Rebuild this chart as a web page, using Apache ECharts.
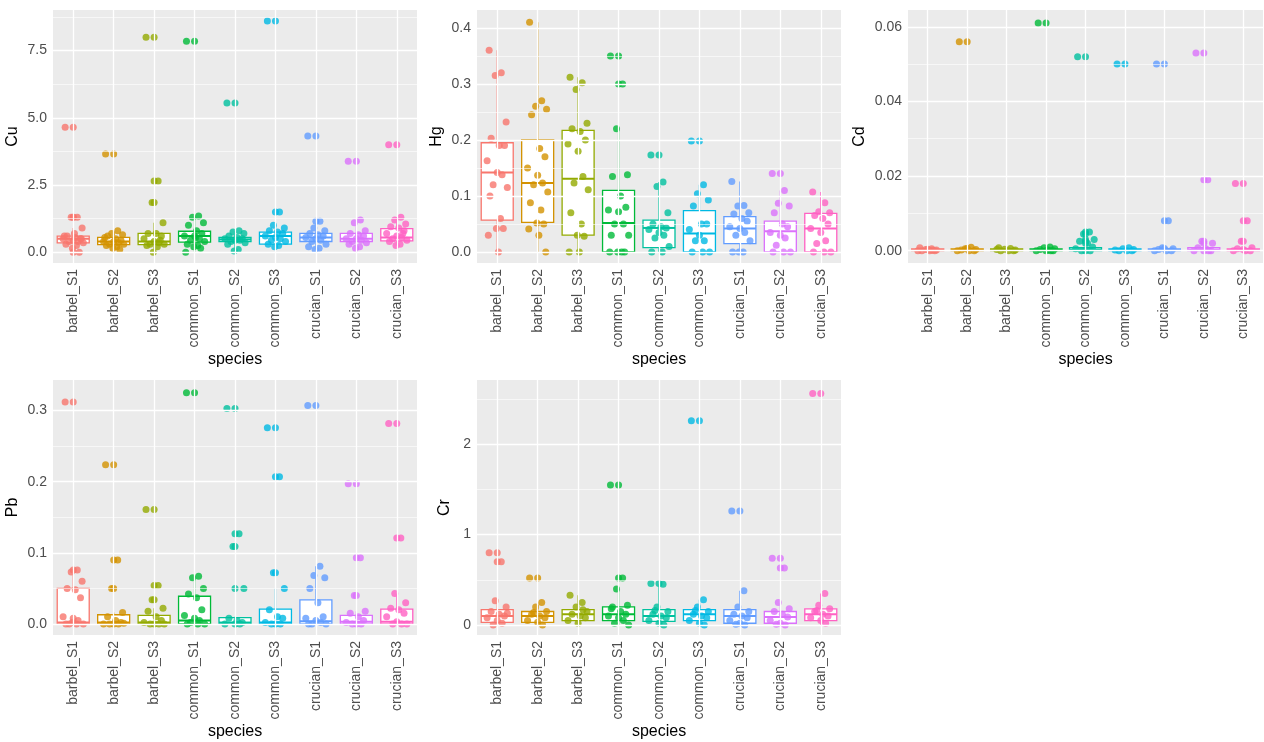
<!DOCTYPE html>
<html><head><meta charset="utf-8">
<script src="https://cdn.jsdelivr.net/npm/echarts@6/dist/echarts.min.js"></script>
<style>html,body{margin:0;background:#fff}#main{width:1264px;height:742px}</style>
</head><body><div id="main"></div>
<script>
var species = ['barbel_S1','barbel_S2','barbel_S3','common_S1','common_S2','common_S3','crucian_S1','crucian_S2','crucian_S3'];
var colors = ['#F8766D','#D39200','#93AA00','#00BA38','#00C19F','#00B9E3','#619CFF','#DB72FB','#FF61C3'];
// jitter offsets (x direction only)
var jitter = [-0.2,0.1,-0.05,0.22,-0.15,0.05,0.18,-0.25,0.0,0.12,-0.1,0.25,-0.18,0.08,-0.02,0.15,-0.22,0.03,0.2,-0.08];

// box stats: [lowWhisker, Q1, median, Q3, highWhisker]
var cuBox = [[0.05,0.35,0.5,0.6,0.9],[0.1,0.28,0.4,0.55,0.8],[0,0.28,0.4,0.7,1.1],[0,0.38,0.6,0.78,1.35],[0.05,0.4,0.48,0.55,0.8],[0.2,0.3,0.6,0.75,1.0],[0.1,0.4,0.55,0.7,1.1],[0.15,0.4,0.5,0.7,1.2],[0.25,0.42,0.55,0.88,1.3]];
var cuPts = [
 [4.65,1.3,1.3,0.9,0.6,0.55,0.5,0.5,0.45,0.4,0.4,0.35,0.3,0.25,0.15,0.0,0.6,0.7,0.5],
 [3.65,0.8,0.7,0.65,0.6,0.5,0.45,0.4,0.4,0.35,0.3,0.3,0.25,0.2,0.15,0.1,0.55],
 [8.0,2.65,1.85,1.1,0.7,0.7,0.6,0.5,0.4,0.35,0.3,0.3,0.25,0.2,0.0,0.45],
 [7.85,1.35,1.3,1.1,1.0,0.8,0.7,0.6,0.6,0.5,0.45,0.4,0.3,0.25,0.2,0.15,0.0,0.55],
 [5.55,0.8,0.75,0.7,0.6,0.55,0.5,0.5,0.45,0.45,0.4,0.35,0.3,0.1,0.05],
 [8.6,1.5,1.0,0.9,0.8,0.75,0.7,0.6,0.55,0.5,0.45,0.4,0.3,0.25,0.2],
 [4.32,1.15,0.9,0.8,0.7,0.65,0.6,0.55,0.5,0.45,0.4,0.3,0.2,0.15,0.1],
 [3.38,1.2,1.1,0.8,0.7,0.65,0.6,0.5,0.5,0.45,0.4,0.35,0.3,0.2,0.15],
 [4.0,1.3,1.2,1.05,0.95,0.9,0.8,0.7,0.6,0.55,0.5,0.45,0.4,0.3,0.25,0.7]];

var hgBox = [[0,0.057,0.142,0.195,0.36],[0,0.053,0.123,0.2,0.41],[0,0.03,0.131,0.217,0.312],[0,0,0.052,0.11,0.22],[0,0.008,0.043,0.057,0.125],[0,0,0.033,0.074,0.12],[0,0.015,0.042,0.063,0.126],[0,0,0.037,0.055,0.11],[0,0,0.042,0.069,0.107]];
var hgPts = [
 [0.36,0.32,0.315,0.232,0.203,0.19,0.19,0.163,0.142,0.138,0.12,0.115,0.1,0.06,0.042,0.042,0.03,0],
 [0.41,0.27,0.26,0.255,0.245,0.185,0.17,0.15,0.137,0.123,0.12,0.107,0.088,0.075,0.052,0.05,0.041,0.03,0],
 [0.312,0.302,0.29,0.23,0.22,0.215,0.2,0.193,0.18,0.135,0.123,0.111,0.07,0.05,0.03,0.028,0,0],
 [0.35,0.3,0.22,0.138,0.135,0.1,0.08,0.075,0.072,0.05,0.05,0.03,0.03,0,0,0,0],
 [0.173,0.125,0.117,0.07,0.05,0.045,0.043,0.04,0.035,0.03,0.025,0.01,0,0],
 [0.198,0.12,0.104,0.093,0.082,0.05,0.05,0.04,0.03,0.02,0.02,0,0,0],
 [0.126,0.083,0.082,0.07,0.068,0.06,0.055,0.045,0.042,0.035,0.03,0.02,0,0,0],
 [0.14,0.11,0.087,0.082,0.07,0.05,0.045,0.035,0.03,0.025,0.012,0,0,0],
 [0.107,0.088,0.072,0.07,0.065,0.06,0.05,0.042,0.035,0.02,0.015,0,0,0]];

var cdBox = [[0,0,0.0002,0.0005,0.001],[0,0,0.0002,0.0005,0.001],[0,0,0.0002,0.0005,0.001],[0,0,0.0002,0.0005,0.001],[0,0,0.0003,0.0008,0.0015],[0,0,0.0002,0.0005,0.001],[0,0,0.0002,0.0005,0.001],[0,0,0.0003,0.0008,0.0015],[0,0,0.0002,0.0005,0.001]];
var cdPts = [
 [0.0008,0.0005,0.0003,0.0002,0,0,0,0,0.0004,0.0001],
 [0.056,0.0009,0.0005,0.0003,0.0002,0,0,0,0.0006],
 [0.0008,0.0006,0.0004,0.0002,0,0,0,0.0003],
 [0.061,0.001,0.0008,0.0005,0.0003,0.0002,0,0,0,0],
 [0.052,0.005,0.0045,0.003,0.0025,0.002,0.001,0.0005,0,0,0],
 [0.050,0.0008,0.0005,0.0003,0,0,0,0.0002],
 [0.050,0.008,0.0008,0.0005,0.0003,0,0,0,0.0006],
 [0.053,0.019,0.0025,0.002,0.0008,0.0005,0,0,0,0],
 [0.018,0.008,0.0025,0.0008,0.0005,0,0,0,0.0003]];

var pbBox = [[0,0,0.002,0.05,0.075],[0,0,0.002,0.013,0.016],[0,0,0.002,0.012,0.022],[0,0,0.005,0.039,0.067],[0,0,0.002,0.009,0.01],[0,0,0.002,0.021,0.05],[0,0,0.004,0.034,0.081],[0,0,0.003,0.012,0.018],[0,0,0.003,0.021,0.043]];
var pbPts = [
 [0.312,0.076,0.073,0.06,0.05,0.048,0.037,0.01,0.008,0.005,0,0,0,0,0.002],
 [0.224,0.09,0.05,0.016,0.01,0.005,0.002,0,0,0,0,0.001],
 [0.161,0.054,0.034,0.022,0.018,0.01,0.005,0.002,0,0,0,0],
 [0.325,0.067,0.065,0.05,0.042,0.037,0.02,0.012,0.008,0.005,0.002,0,0,0],
 [0.303,0.127,0.109,0.05,0.008,0.005,0.002,0,0,0],
 [0.276,0.207,0.072,0.05,0.02,0.01,0.008,0.002,0,0,0],
 [0.307,0.081,0.068,0.065,0.05,0.03,0.01,0.008,0.005,0.002,0,0,0],
 [0.197,0.093,0.04,0.018,0.015,0.01,0.005,0.002,0,0,0],
 [0.282,0.121,0.043,0.03,0.022,0.02,0.015,0.01,0.003,0,0,0]];

var crBox = [[0,0.03,0.1,0.17,0.3],[0,0.03,0.1,0.15,0.25],[0,0.05,0.12,0.17,0.33],[0,0.05,0.12,0.2,0.4],[0,0.04,0.1,0.17,0.45],[0,0.05,0.12,0.17,0.28],[0,0.02,0.1,0.17,0.38],[0,0.02,0.09,0.15,0.25],[0,0.05,0.12,0.18,0.35]];
var crPts = [
 [0.8,0.7,0.27,0.2,0.15,0.12,0.1,0.08,0.05,0.02,0,0.13],
 [0.52,0.25,0.2,0.15,0.12,0.1,0.08,0.05,0.03,0,0.14],
 [0.33,0.25,0.2,0.15,0.12,0.1,0.08,0.05,0.02,0.17],
 [1.55,0.52,0.4,0.22,0.2,0.15,0.12,0.1,0.08,0.05,0.02,0,0.18],
 [0.46,0.45,0.2,0.15,0.12,0.1,0.08,0.05,0.02,0,0.16],
 [2.26,0.28,0.2,0.15,0.12,0.1,0.08,0.05,0.02,0,0.16],
 [1.26,0.38,0.2,0.15,0.12,0.1,0.08,0.05,0.02,0,0.01],
 [0.74,0.63,0.25,0.18,0.15,0.12,0.09,0.05,0.02,0,0.01],
 [2.56,0.35,0.22,0.18,0.15,0.12,0.1,0.08,0.05,0.02,0.16]];

var panels = [
 {name:'Cu', box:cuBox, pts:cuPts, min:-0.4, max:9.01, ticks:[0,2.5,5,7.5], minor:[1.25,3.75,6.25,8.75], dec:1, rect:[53,10,364,253], gap:32},
 {name:'Hg', box:hgBox, pts:hgPts, min:-0.0196, max:0.432, ticks:[0,0.1,0.2,0.3,0.4], minor:[0.05,0.15,0.25,0.35], dec:1, rect:[477,10,364,253], gap:32},
 {name:'Cd', box:cdBox, pts:cdPts, min:-0.0033, max:0.0645, ticks:[0,0.02,0.04,0.06], minor:[0.01,0.03,0.05], dec:2, rect:[908,10,355,253], gap:40},
 {name:'Pb', box:pbBox, pts:pbPts, min:-0.0155, max:0.343, ticks:[0,0.1,0.2,0.3], minor:[0.05,0.15,0.25], dec:1, rect:[53,380,364,255], gap:32},
 {name:'Cr', box:crBox, pts:crPts, min:-0.11, max:2.71, ticks:[0,1,2], minor:[0.5,1.5,2.5], dec:0, rect:[477,380,364,255], gap:24}
];

// ggplot-style box: no whisker caps
function renderBox(params, api){
  var i = api.value(0);
  var lo = api.coord([i, api.value(1)]), q1 = api.coord([i, api.value(2)]),
      md = api.coord([i, api.value(3)]), q3 = api.coord([i, api.value(4)]), hi = api.coord([i, api.value(5)]);
  var half = 16, x = lo[0];
  var st = {stroke: colors[i], lineWidth: 1.3, fill: null};
  return {type:'group', children:[
    {type:'line', shape:{x1:x, y1:hi[1], x2:x, y2:q3[1]}, style:st},
    {type:'line', shape:{x1:x, y1:q1[1], x2:x, y2:lo[1]}, style:st},
    {type:'rect', shape:{x:x-half, y:q3[1], width:2*half, height:q1[1]-q3[1]}, style:{stroke:colors[i], lineWidth:1.3, fill:'#fff'}},
    {type:'line', shape:{x1:x-half, y1:md[1], x2:x+half, y2:md[1]}, style:{stroke:colors[i], lineWidth:2}}
  ]};
}

var grid=[], xAxis=[], yAxis=[], series=[];
panels.forEach(function(p,k){
  grid.push({left:p.rect[0], top:p.rect[1], width:p.rect[2], height:p.rect[3], show:true, backgroundColor:'#EBEBEB', borderWidth:0, outerBoundsMode:'none', containLabel:false});
  xAxis.push({type:'category', gridIndex:k, data:species, axisLine:{show:false},
    axisTick:{alignWithLabel:true, length:4, lineStyle:{color:'#333'}},
    axisLabel:{rotate:90, fontSize:14, color:'#4d4d4d', fontFamily:'Liberation Sans', margin:6},
    splitLine:{show:false},
    name:'species', nameLocation:'middle', nameGap:88, nameTextStyle:{fontSize:16, color:'#000', fontFamily:'Liberation Sans'}});
  xAxis.push({type:'value', gridIndex:k, min:-0.5, max:8.5, show:false});
  yAxis.push({type:'value', gridIndex:k, min:p.min, max:p.max, axisLine:{show:false},
    axisTick:{customValues:p.ticks, length:4, lineStyle:{color:'#333'}},
    axisLabel:{customValues:p.ticks, fontSize:14, color:'#4d4d4d', fontFamily:'Liberation Sans', margin:6,
      formatter:function(v){return v.toFixed(p.dec);}},
    splitLine:{show:false},
    name:p.name, nameLocation:'middle', nameGap:p.gap, nameRotate:90, nameTextStyle:{fontSize:16, color:'#000', fontFamily:'Liberation Sans'}});
  // gridlines
  var ml = [];
  p.minor.forEach(function(v){ml.push({yAxis:v, lineStyle:{width:0.6}});});
  p.ticks.forEach(function(v){ml.push({yAxis:v, lineStyle:{width:1.3}});});
  species.forEach(function(s,i){ml.push({xAxis:i, lineStyle:{width:1.3}});});
  series.push({type:'scatter', xAxisIndex:2*k+1, yAxisIndex:k, data:[], silent:true, z:1,
    markLine:{silent:true, symbol:'none', label:{show:false}, animation:false, lineStyle:{color:'#fff', type:'solid'}, data:ml}});
  series.push({type:'custom', xAxisIndex:2*k+1, yAxisIndex:k, z:2, renderItem:renderBox, silent:true,
    data:p.box.map(function(b,i){return [i].concat(b);})});
  var pts=[];
  p.pts.forEach(function(arr,i){
    arr.forEach(function(v,j){
      pts.push({value:[i+jitter[j%jitter.length], v], itemStyle:{color:colors[i]}});
      if(v>p.box[i][4] || v<p.box[i][0]) pts.push({value:[i, v], itemStyle:{color:colors[i]}});
    });
  });
  series.push({type:'scatter', xAxisIndex:2*k+1, yAxisIndex:k, z:3, symbolSize:7, data:pts});
});

var chart = echarts.init(document.getElementById('main'));
chart.setOption({animation:false, grid:grid, xAxis:xAxis, yAxis:yAxis, series:series});
</script></body></html>
